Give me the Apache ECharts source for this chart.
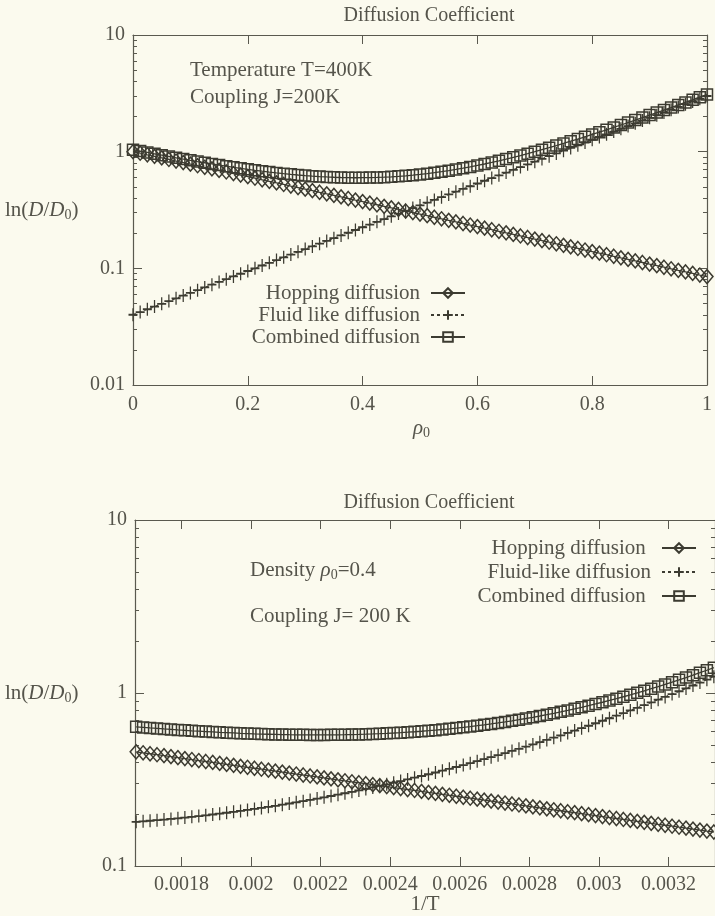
<!DOCTYPE html>
<html><head><meta charset="utf-8">
<script src="https://cdn.jsdelivr.net/npm/echarts@6/dist/echarts.min.js"></script>
<style>html,body{margin:0;padding:0;background:#fbfaee;overflow:hidden}#c{width:715px;height:916px}</style>
</head><body><div id="c"></div>
<script>
// ---- Top chart: D vs density rho0 (T=400K, J=200K) ----
const rho = [0,0.0125,0.025,0.0375,0.05,0.0625,0.075,0.0875,0.1,0.1125,0.125,0.1375,0.15,0.1625,0.175,0.1875,0.2,0.2125,0.225,0.2375,0.25,0.2625,0.275,0.2875,0.3,0.3125,0.325,0.3375,0.35,0.3625,0.375,0.3875,0.4,0.4125,0.425,0.4375,0.45,0.4625,0.475,0.4875,0.5,0.5125,0.525,0.5375,0.55,0.5625,0.575,0.5875,0.6,0.6125,0.625,0.6375,0.65,0.6625,0.675,0.6875,0.7,0.7125,0.725,0.7375,0.75,0.7625,0.775,0.7875,0.8,0.8125,0.825,0.8375,0.85,0.8625,0.875,0.8875,0.9,0.9125,0.925,0.9375,0.95,0.9625,0.975,0.9875,1];
const hopTop = [1.0000,0.9697,0.9402,0.9118,0.8841,0.8573,0.8313,0.8060,0.7815,0.7578,0.7348,0.7125,0.6909,0.6700,0.6496,0.6299,0.6108,0.5923,0.5743,0.5569,0.5400,0.5236,0.5077,0.4923,0.4773,0.4629,0.4488,0.4352,0.4220,0.4092,0.3968,0.3847,0.3731,0.3618,0.3508,0.3401,0.3298,0.3198,0.3101,0.3007,0.2916,0.2827,0.2741,0.2658,0.2577,0.2499,0.2423,0.2350,0.2279,0.2209,0.2142,0.2077,0.2014,0.1953,0.1894,0.1837,0.1781,0.1727,0.1674,0.1623,0.1574,0.1526,0.1480,0.1435,0.1391,0.1349,0.1308,0.1269,0.1230,0.1193,0.1157,0.1122,0.1087,0.1054,0.1022,0.0991,0.0961,0.0932,0.0904,0.0876,0.0850];
const fluidTop = [0.0400,0.0422,0.0446,0.0470,0.0496,0.0524,0.0553,0.0584,0.0616,0.0650,0.0686,0.0724,0.0764,0.0807,0.0852,0.0899,0.0949,0.1001,0.1057,0.1115,0.1177,0.1242,0.1311,0.1384,0.1461,0.1542,0.1627,0.1717,0.1813,0.1913,0.2019,0.2131,0.2249,0.2374,0.2506,0.2645,0.2791,0.2946,0.3110,0.3282,0.3464,0.3656,0.3859,0.4073,0.4299,0.4537,0.4789,0.5054,0.5334,0.5630,0.5942,0.6272,0.6619,0.6987,0.7374,0.7783,0.8215,0.8671,0.9151,0.9659,1.0194,1.0760,1.1356,1.1986,1.2651,1.3352,1.4093,1.4874,1.5699,1.6570,1.7488,1.8458,1.9485,2.0565,2.1706,2.2909,2.4180,2.5520,2.6936,2.8429,3.0005];
const combTop = [1.0400,1.0119,0.9848,0.9588,0.9337,0.9097,0.8866,0.8644,0.8431,0.8228,0.8034,0.7849,0.7673,0.7507,0.7348,0.7198,0.7057,0.6924,0.6800,0.6684,0.6577,0.6478,0.6388,0.6307,0.6234,0.6171,0.6115,0.6069,0.6033,0.6005,0.5987,0.5978,0.5980,0.5992,0.6014,0.6046,0.6089,0.6144,0.6211,0.6289,0.6380,0.6483,0.6600,0.6731,0.6876,0.7036,0.7212,0.7404,0.7613,0.7839,0.8084,0.8349,0.8633,0.8940,0.9268,0.9620,0.9996,1.0398,1.0825,1.1282,1.1768,1.2286,1.2836,1.3421,1.4042,1.4701,1.5401,1.6143,1.6929,1.7763,1.8645,1.9580,2.0572,2.1619,2.2728,2.3900,2.5141,2.6452,2.7840,2.9305,3.0855];

// ---- Bottom chart: D vs 1/T (rho0=0.4, J=200K) ----
const invT = [0.00167,0.00169,0.00171,0.00173,0.00175,0.00177,0.00179,0.00181,0.00183,0.00185,0.00187,0.00189,0.00191,0.00193,0.00195,0.00197,0.00199,0.00201,0.00203,0.00205,0.00207,0.00209,0.00211,0.00213,0.00215,0.00217,0.00219,0.00221,0.00223,0.00225,0.00227,0.00229,0.00231,0.00233,0.00235,0.00237,0.00239,0.00241,0.00243,0.00245,0.00247,0.00249,0.00251,0.00253,0.00255,0.00257,0.00259,0.00261,0.00263,0.00265,0.00267,0.00269,0.00271,0.00273,0.00275,0.00277,0.00279,0.00281,0.00283,0.00285,0.00287,0.00289,0.00291,0.00293,0.00295,0.00297,0.00299,0.00301,0.00303,0.00305,0.00307,0.00309,0.00311,0.00313,0.00315,0.00317,0.00319,0.00321,0.00323,0.00325,0.00327,0.00329,0.00331,0.00333];
const hopBot = [0.4571,0.4513,0.4455,0.4398,0.4342,0.4286,0.4231,0.4177,0.4124,0.4071,0.4019,0.3968,0.3917,0.3867,0.3818,0.3769,0.3721,0.3673,0.3626,0.3580,0.3534,0.3489,0.3445,0.3401,0.3357,0.3314,0.3272,0.3230,0.3189,0.3148,0.3108,0.3068,0.3029,0.2990,0.2952,0.2914,0.2877,0.2840,0.2804,0.2768,0.2733,0.2698,0.2663,0.2629,0.2596,0.2563,0.2530,0.2497,0.2465,0.2434,0.2403,0.2372,0.2342,0.2312,0.2283,0.2253,0.2225,0.2196,0.2168,0.2140,0.2113,0.2086,0.2059,0.2033,0.2007,0.1981,0.1956,0.1931,0.1906,0.1882,0.1858,0.1834,0.1811,0.1788,0.1765,0.1742,0.1720,0.1698,0.1676,0.1655,0.1634,0.1613,0.1592,0.1572];
const fluidBot = [0.1800,0.1813,0.1826,0.1840,0.1855,0.1871,0.1887,0.1905,0.1923,0.1943,0.1963,0.1985,0.2007,0.2031,0.2056,0.2081,0.2109,0.2137,0.2166,0.2197,0.2229,0.2262,0.2297,0.2333,0.2371,0.2411,0.2452,0.2494,0.2539,0.2585,0.2633,0.2684,0.2736,0.2790,0.2847,0.2906,0.2967,0.3031,0.3097,0.3166,0.3238,0.3313,0.3391,0.3472,0.3557,0.3645,0.3736,0.3832,0.3931,0.4035,0.4144,0.4257,0.4374,0.4497,0.4625,0.4759,0.4898,0.5044,0.5196,0.5354,0.5521,0.5694,0.5875,0.6064,0.6262,0.6469,0.6685,0.6911,0.7148,0.7396,0.7655,0.7927,0.8211,0.8509,0.8821,0.9150,0.9494,0.9854,1.0233,1.0630,1.1047,1.1485,1.1945,1.2428];
const combBot = [0.6371,0.6326,0.6281,0.6238,0.6197,0.6157,0.6118,0.6082,0.6047,0.6014,0.5982,0.5953,0.5924,0.5898,0.5874,0.5850,0.5830,0.5810,0.5792,0.5777,0.5763,0.5751,0.5742,0.5734,0.5728,0.5725,0.5724,0.5724,0.5728,0.5733,0.5741,0.5752,0.5765,0.5780,0.5799,0.5820,0.5844,0.5871,0.5901,0.5934,0.5971,0.6011,0.6054,0.6101,0.6153,0.6208,0.6266,0.6329,0.6396,0.6469,0.6547,0.6629,0.6716,0.6809,0.6908,0.7012,0.7123,0.7240,0.7364,0.7494,0.7634,0.7780,0.7934,0.8097,0.8269,0.8450,0.8641,0.8842,0.9054,0.9278,0.9513,0.9761,1.0022,1.0297,1.0586,1.0892,1.1214,1.1552,1.1909,1.2285,1.2681,1.3098,1.3537,1.4000];

// ---- Tick values ----
const yMajorTop = [0.01,0.1,1,10];
const yMinorTop = [0.02,0.03,0.04,0.05,0.06,0.07,0.08,0.09,0.2,0.3,0.4,0.5,0.6,0.7,0.8,0.9,2,3,4,5,6,7,8,9];
const yMajorBot = [0.1,1,10];
const yMinorBot = [0.2,0.3,0.4,0.5,0.6,0.7,0.8,0.9,2,3,4,5,6,7,8,9];
const xTicksBot = [0.0018,0.002,0.0022,0.0024,0.0026,0.0028,0.003,0.0032];

const namesTop = ['Hopping diffusion','Fluid like diffusion','Combined diffusion'];
const namesBot = ['Hopping diffusion ','Fluid-like diffusion','Combined diffusion '];

const INK = '#3c3b31';
const AX = '#5a594f';
const TXT = '#55544b';
const FONT = 'Liberation Serif';
const PLUS = 'path://M5,0L5,10M0,5L10,5';

const pairs = (xs, ys) => xs.map((x, i) => [x, ys[i]]);
const chart = echarts.init(document.getElementById('c'), null, {renderer: 'canvas'});

function yAxes(grid, min, max, major, minor) {
  const base = {gridIndex: grid, type: 'log', logBase: 10, min: min, max: max, splitLine: {show: false}};
  return [
    Object.assign({}, base, {position: 'left', axisLine: {show: true, lineStyle: {color: AX, width: 1.2}},
      axisTick: {show: true, inside: true, length: 9, lineStyle: {color: AX}, customValues: major},
      axisLabel: {show: true, customValues: major, color: TXT, fontFamily: FONT, fontSize: 20, margin: 8,
        formatter: v => String(+(+v).toPrecision(3))}}),
    Object.assign({}, base, {position: 'left', axisLine: {show: false},
      axisTick: {show: true, inside: true, length: 4, lineStyle: {color: AX}, customValues: minor},
      axisLabel: {show: false}}),
    Object.assign({}, base, {position: 'right', axisLine: {show: true, lineStyle: {color: AX, width: 1.2}},
      axisTick: {show: true, inside: true, length: 9, lineStyle: {color: AX}, customValues: major},
      axisLabel: {show: false}}),
    Object.assign({}, base, {position: 'right', axisLine: {show: false},
      axisTick: {show: true, inside: true, length: 4, lineStyle: {color: AX}, customValues: minor},
      axisLabel: {show: false}})
  ];
}

function mk(name, xs, ys, sym, size, xi, yi, dashed) {
  return {
    name: name, type: 'line', xAxisIndex: xi, yAxisIndex: yi,
    data: pairs(xs, ys), symbol: sym, symbolSize: size, showAllSymbol: true,
    lineStyle: {color: INK, width: 1.3, type: dashed ? [3, 3] : 'solid'},
    itemStyle: {color: 'rgba(0,0,0,0)', borderColor: INK, borderWidth: 1.5},
    emphasis: {disabled: true}, z: 3
  };
}

function legendItem(name, right, top) {
  return {data: [name], right: right, top: top, orient: 'horizontal', align: 'right',
    itemWidth: 34, itemHeight: 12, itemGap: 0, padding: 0, selectedMode: false,
    textStyle: {color: TXT, fontFamily: FONT, fontSize: 21, lineHeight: 22, padding: [0, 6, 0, 0]}};
}

const sub = {fontFamily: FONT, fontSize: 14, color: TXT, verticalAlign: 'bottom', lineHeight: 18};
const norm = {fontFamily: FONT, fontSize: 21, color: TXT, lineHeight: 24};
const ital = {fontFamily: FONT, fontSize: 21, color: TXT, fontStyle: 'italic', lineHeight: 24};
function txt(x, y, text, align) {
  return {type: 'text', x: x, y: y, silent: true,
    style: {text: text, rich: {n: norm, i: ital, s: sub}, fill: TXT, font: '21px ' + FONT, align: align || 'left', verticalAlign: 'middle'}};
}

const option = {
  backgroundColor: '#fbfaee',
  animation: false,
  textStyle: {fontFamily: FONT},
  title: [
    {text: 'Diffusion Coefficient', left: 424, top: 1, textAlign: 'center', textStyle: {color: TXT, fontFamily: FONT, fontSize: 20, fontWeight: 'normal'}},
    {text: 'Diffusion Coefficient', left: 424, top: 488, textAlign: 'center', textStyle: {color: TXT, fontFamily: FONT, fontSize: 20, fontWeight: 'normal'}}
  ],
  grid: [
    {left: 133, top: 35, right: 0, height: 350},
    {left: 135, top: 520, right: -4, height: 346}
  ],
  xAxis: [
    {gridIndex: 0, type: 'value', min: 0, max: 1, interval: 0.2, position: 'bottom', splitLine: {show: false},
      axisLine: {show: true, lineStyle: {color: AX, width: 1.2}}, axisTick: {inside: true, length: 9, lineStyle: {color: AX}},
      axisLabel: {color: TXT, fontFamily: FONT, fontSize: 20, margin: 10}},
    {gridIndex: 0, type: 'value', min: 0, max: 1, interval: 0.2, position: 'top', splitLine: {show: false},
      axisLine: {show: true, lineStyle: {color: AX, width: 1.2}}, axisTick: {inside: true, length: 9, lineStyle: {color: AX}},
      axisLabel: {show: false}},
    {gridIndex: 1, type: 'value', min: 0.0016667, max: 0.0033333, position: 'bottom', splitLine: {show: false},
      axisLine: {show: true, lineStyle: {color: AX, width: 1.2}}, axisTick: {inside: true, length: 9, lineStyle: {color: AX}, customValues: xTicksBot},
      axisLabel: {color: TXT, fontFamily: FONT, fontSize: 20, margin: 9, customValues: xTicksBot}},
    {gridIndex: 1, type: 'value', min: 0.0016667, max: 0.0033333, position: 'top', splitLine: {show: false},
      axisLine: {show: true, lineStyle: {color: AX, width: 1.2}}, axisTick: {inside: true, length: 9, lineStyle: {color: AX}, customValues: xTicksBot},
      axisLabel: {show: false}}
  ],
  yAxis: [].concat(yAxes(0, 0.01, 10, yMajorTop, yMinorTop), yAxes(1, 0.1, 10, yMajorBot, yMinorBot)),
  legend: [
    legendItem(namesTop[0], 249, 282),
    legendItem(namesTop[1], 249, 304),
    legendItem(namesTop[2], 249, 326),
    legendItem(namesBot[0], 18, 537),
    legendItem(namesBot[1], 18, 561),
    legendItem(namesBot[2], 18, 585)
  ],
  series: [
    mk(namesTop[0], rho, hopTop, 'diamond', [12, 14], 0, 0, false),
    mk(namesTop[1], rho, fluidTop, PLUS, [9, 13], 0, 0, true),
    mk(namesTop[2], rho, combTop, 'rect', 11, 0, 0, false),
    mk(namesBot[0], invT, hopBot, 'diamond', [12, 14], 2, 4, false),
    mk(namesBot[1], invT, fluidBot, PLUS, [9, 13], 2, 4, true),
    mk(namesBot[2], invT, combBot, 'rect', 11, 2, 4, false)
  ],
  graphic: [
    txt(5, 210, '{n|ln(}{i|D}{n|/}{i|D}{s|0}{n|)}'),
    txt(5, 693, '{n|ln(}{i|D}{n|/}{i|D}{s|0}{n|)}'),
    txt(190, 70, '{n|Temperature T=400K}'),
    txt(190, 97, '{n|Coupling J=200K}'),
    txt(250, 570, '{n|Density }{i|ρ}{s|0}{n|=0.4}'),
    txt(250, 616, '{n|Coupling J= 200 K}'),
    txt(413, 428, '{i|ρ}{s|0}'),
    txt(425, 904, '{n|1/T}', 'center')
  ]
};
chart.setOption(option);
</script>
</body></html>
